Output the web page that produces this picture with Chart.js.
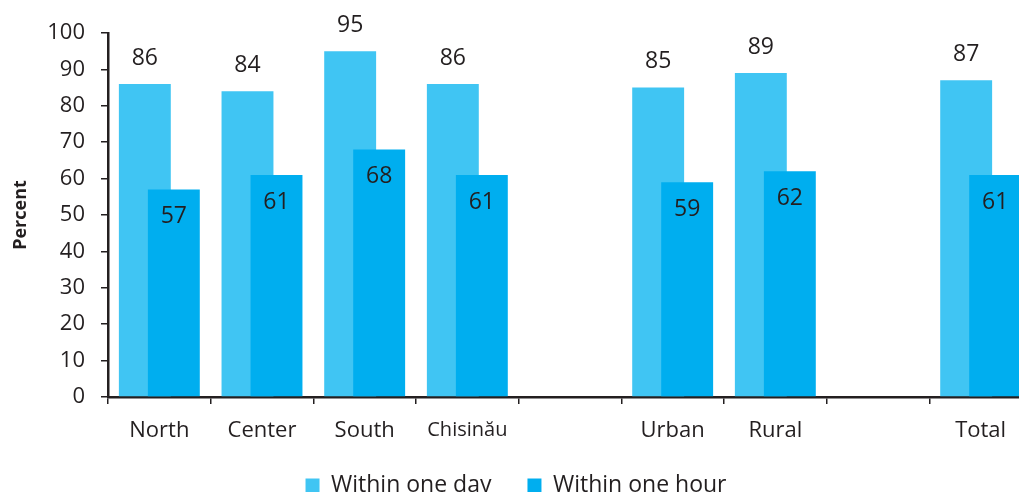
<!DOCTYPE html>
<html lang="en">
<head>
  <meta charset="UTF-8"/>
  <title>Within one day / within one hour</title>
  <script src="https://cdn.jsdelivr.net/npm/chart.js@4.4.1/dist/chart.umd.min.js"></script>
  <style>
    html, body { margin: 0; padding: 0; background: #fff; overflow: hidden; }
    #wrap { width: 1032px; height: 518px; }
  </style>
</head>
<body>
  <div id="wrap"><canvas id="chart" width="1032" height="518"></canvas></div>
  <script>
    // empty strings leave gaps between region, residence and total groups
    const categories = ['North', 'Center', 'South', 'Chisinău', '', 'Urban', 'Rural', '', 'Total'];
    const withinDay = [86, 84, 95, 86, null, 85, 89, null, 87];
    const withinHour = [57, 61, 68, 61, null, 59, 62, null, 61];
    const yTicks = [0, 10, 20, 30, 40, 50, 60, 70, 80, 90, 100];

    const ink = '#231f20';
    const font = '"Open Sans", "Noto Sans", sans-serif';

    // Chart.js paints dataset 0 last; the hour bars must sit on top of the
    // day bars, so hold them back and paint them right after the day bars.
    const hourOnTop = {
      id: 'hourOnTop',
      beforeDatasetDraw(chart, args) {
        if (args.index === 1) return false;
      },
      afterDatasetDraw(chart, args) {
        if (args.index === 0) chart.getDatasetMeta(1).controller.draw();
      }
    };

    // the wide label padding spaces the legend items apart, but also pushes
    // the row down; lift it back up under the axis labels
    const legendLift = {
      id: 'legendLift',
      afterLayout(chart) {
        chart.legend.top -= 11;
        chart.legend.bottom -= 11;
      }
    };

    // value labels: above the light bars, inside the top of the dark bars
    const valueLabels = {
      id: 'valueLabels',
      afterDatasetsDraw(chart) {
        const ctx = chart.ctx;
        ctx.save();
        ctx.font = '23px ' + font;
        ctx.fillStyle = ink;
        ctx.textAlign = 'center';
        ctx.textBaseline = 'middle';
        chart.data.datasets.forEach((ds, di) => {
          chart.getDatasetMeta(di).data.forEach((bar, i) => {
            const v = ds.data[i];
            if (v == null) return;
            const y = di === 0 ? bar.y - 26 : bar.y + 27;
            ctx.fillText(String(v), bar.x, y);
          });
        });
        ctx.restore();
      }
    };

    new Chart(document.getElementById('chart').getContext('2d'), {
      type: 'bar',
      data: {
        labels: categories,
        datasets: [
          {
            label: 'Within one day',
            data: withinDay,
            backgroundColor: '#40c5f3',
            categoryPercentage: 0.565,
            barPercentage: 1.79
          },
          {
            label: 'Within one hour',
            data: withinHour,
            backgroundColor: '#00aeef',
            categoryPercentage: 0.565,
            barPercentage: 1.79
          }
        ]
      },
      options: {
        responsive: false,
        animation: false,
        layout: { padding: { top: 33, left: 0, right: 0, bottom: 0 } },
        plugins: {
          legend: {
            position: 'bottom',
            labels: {
              color: ink,
              font: { family: font, size: 23 },
              boxWidth: 14,
              boxHeight: 14,
              padding: 36
            }
          },
          tooltip: { enabled: false }
        },
        scales: {
          x: {
            grid: {
              drawOnChartArea: false,
              offset: true,
              tickLength: 7,
              color: ink,
              lineWidth: 1.5
            },
            border: { color: ink, width: 2.5 },
            ticks: {
              color: ink,
              padding: 14,
              maxRotation: 0,
              autoSkip: false,
              font: c => ({ family: font, size: categories[c.index] === 'Chisinău' ? 20 : 22 })
            },
            afterFit: s => { s.height = 52; }
          },
          y: {
            min: 0,
            max: 100,
            afterBuildTicks: s => { s.ticks = yTicks.map(v => ({ value: v })); },
            grid: {
              drawOnChartArea: false,
              tickLength: 7,
              color: ink,
              lineWidth: 1.5
            },
            border: { color: ink, width: 2.5 },
            ticks: {
              color: ink,
              padding: 16,
              font: { family: font, size: 22 }
            },
            title: {
              display: true,
              text: 'Percent',
              color: ink,
              font: { family: font, size: 18, weight: 'bold' },
              padding: { top: 10, bottom: 0 }
            },
            afterFit: s => { s.width = 108; }
          }
        }
      },
      plugins: [hourOnTop, legendLift, valueLabels]
    });
  </script>
</body>
</html>
